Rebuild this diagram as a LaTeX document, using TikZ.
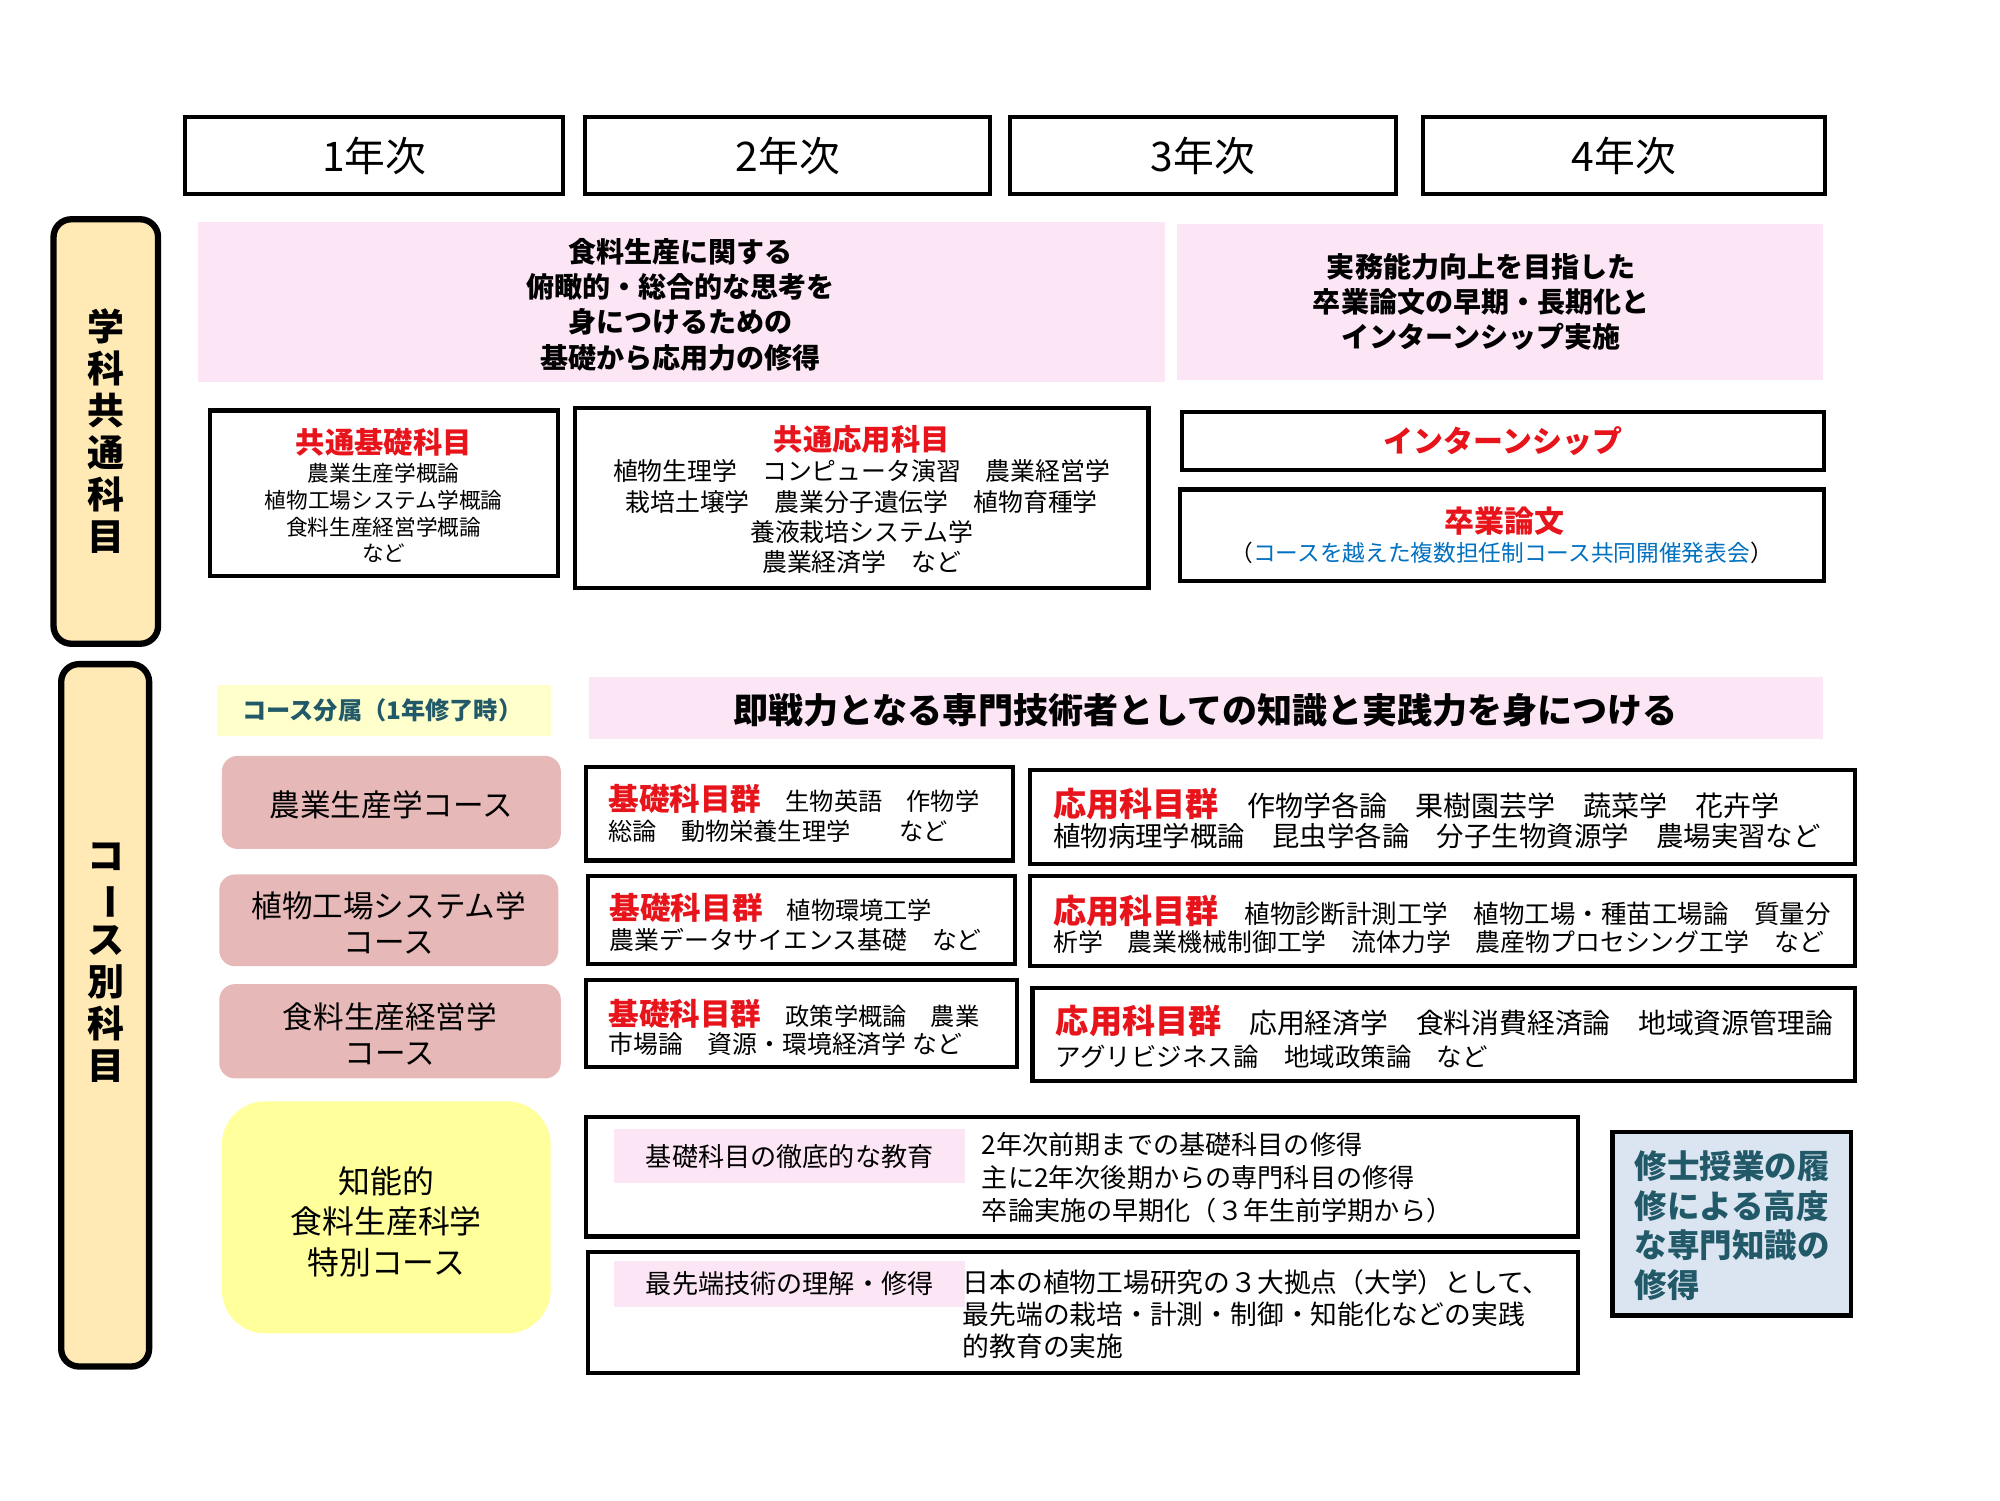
\documentclass[tikz,border=0pt]{standalone}
\usepackage{fontspec}
\usepackage{graphicx}
\setmainfont{Noto Sans CJK JP}
\definecolor{myred}{HTML}{E8141B}
\definecolor{myblue}{HTML}{0070C0}
\definecolor{tealtxt}{HTML}{215968}
\definecolor{peach}{HTML}{FFE9B4}
\definecolor{pinkbg}{HTML}{FCE6F5}
\definecolor{coursebg}{HTML}{E6B9B8}
\definecolor{yellowbg}{HTML}{FFFF9C}
\definecolor{lightyel}{HTML}{FFFFCC}
\definecolor{shubg}{HTML}{DBE5F1}
\newcommand\fs[1]{\fontsize{\fpeval{#1*0.6452}pt}{\fpeval{#1*0.6452*1.25}pt}\selectfont}
\newcommand\fsl[2]{\fontsize{\fpeval{#1*0.6452}pt}{\fpeval{#2*0.6452}pt}\selectfont}
\newcommand\bx[6]{\node[#6, minimum width=\fpeval{(#4-#2)*0.6452}pt, minimum height=\fpeval{(#5-#3)*0.6452}pt] (#1) at (\fpeval{(#2+#4)/2},\fpeval{(#3+#5)/2}) {};}
\newcommand\redt[2]{{\fs{#1}\bfseries\color{myred}#2}}
\begin{document}
\begin{tikzpicture}[x=0.6452pt,y=-0.6452pt,
  base/.style={inner sep=0pt, outer sep=0pt},
  yearbox/.style={base, draw=black, line width=2pt, fill=white},
  wbox/.style={base, draw=black, line width=2.1pt, fill=white},
  sidebox/.style={base, draw=black, line width=3.2pt, fill=peach, rounded corners=9pt},
  pinkbox/.style={base, fill=pinkbg},
  yelbox/.style={base, fill=lightyel},
  course/.style={base, fill=coursebg, rounded corners=8pt},
  special/.style={base, fill=yellowbg, rounded corners=22pt},
  shubox/.style={base, draw=black, line width=2.1pt, fill=shubg},
  txt/.style={inner sep=0pt, align=center},
  lt/.style={inner sep=0pt, anchor=west, align=left},
]
\useasboundingbox (0,0) rectangle (1569,1177);
\fill[white] (0,0) rectangle (1569,1177);

% year headers
\bx{y1}{145}{92}{442}{152}{yearbox}
\bx{y2}{459}{92}{777}{152}{yearbox}
\bx{y3}{792}{92}{1095}{152}{yearbox}
\bx{y4}{1116}{92}{1432}{152}{yearbox}
\node[txt, font=\fs{32}] (y1t) at (y1) {1年次};
\node[txt, font=\fs{32}] (y2t) at (y2) {2年次};
\node[txt, font=\fs{32}] (y3t) at (y3) {3年次};
\node[txt, font=\fs{32}] (y4t) at (y4) {4年次};

% side labels
\bx{sideA}{42}{172}{124}{505}{sidebox}
\node[txt, font=\fsl{29}{33}\bfseries] (sideAt) at (83,338) {学\\科\\共\\通\\科\\目};
\bx{sideB}{48}{521}{117}{1072}{sidebox}
\node[txt, font=\fsl{29}{33}\bfseries] (sideBt) at (83,755) {コ\\\rotatebox[origin=c]{-90}{ー}\\ス\\別\\科\\目};

% common subjects
\bx{pinkA}{155}{174}{914}{300}{pinkbox}
\node[txt, font=\fsl{22}{27.7}\bfseries] (pinkAt) at (534,239) {食料生産に関する\\俯瞰的・総合的な思考を\\身につけるための\\基礎から応用力の修得};
\bx{pinkB}{923}{176}{1430}{298}{pinkbox}
\node[txt, font=\fsl{22}{27.5}\bfseries] (pinkBt) at (1162,237) {実務能力向上を目指した\\卒業論文の早期・長期化と\\インターンシップ実施};

\bx{kiso}{165}{322}{438}{452}{wbox}
\node[txt, font=\fs{23}\bfseries, text=myred] (kisoT) at (301,347) {共通基礎科目};
\node[txt, font=\fsl{17}{21}] (kisoL) at (301,402.5) {農業生産学概論\\植物工場システム学概論\\食料生産経営学概論\\など};

\bx{ouyo}{451}{320}{901}{461}{wbox}
\node[txt, font=\fs{23}\bfseries, text=myred] (ouyoT) at (676,345) {共通応用科目};
\node[txt, font=\fsl{19.5}{23.7}] (ouyoL) at (676,405.5) {植物生理学　コンピュータ演習　農業経営学\\栽培土壌学　農業分子遺伝学　植物育種学\\養液栽培システム学\\農業経済学　など};

\bx{intern}{927}{323}{1431}{369}{wbox}
\node[txt, font=\fs{23.5}\bfseries, text=myred] (internT) at (1179,346) {インターンシップ};

\bx{sotsu}{926}{384}{1431}{456}{wbox}
\node[txt, font=\fs{23.5}\bfseries, text=myred] (sotsuT) at (1180,409) {卒業論文};
\node[txt, font=\fs{17.8}] (sotsuS) at (1178,434) {（\textcolor{myblue}{コースを越えた複数担任制コース共同開催発表会}）};

% course section
\bx{bunzoku}{170}{537}{432}{577}{yelbox}
\node[txt, font=\fs{19}\bfseries, text=tealtxt] (bunzokuT) at (300,557) {コース分属（1年修了時）};
\bx{sokusen}{462}{531}{1430}{580}{pinkbox}
\node[txt, font=\fs{27.5}\bfseries] (sokusenT) at (946,557) {即戦力となる専門技術者としての知識と実践力を身につける};

\bx{c1}{174}{593}{440}{666}{course}
\node[txt, font=\fs{24}] (c1t) at (307,631) {農業生産学コース};
\bx{c2}{172}{686}{438}{758}{course}
\node[txt, font=\fsl{24}{28}] (c2t) at (305,724) {植物工場システム学\\コース};
\bx{c3}{172}{772}{440}{846}{course}
\node[txt, font=\fsl{24}{28}] (c3t) at (306,811) {食料生産経営学\\コース};
\bx{c4}{174}{864}{432}{1046}{special}
\node[txt, font=\fsl{25}{31.5}] (c4t) at (303,958.5) {知能的\\食料生産科学\\特別コース};

% basic groups
\bx{k1}{460}{602}{795}{675}{wbox}
\node[lt, font=\fs{19}] (k1a) at (477,627) {\redt{24}{基礎科目群}　生物英語　作物学};
\node[lt, font=\fs{19}] (k1b) at (477,652) {総論　動物栄養生理学　　など};
\bx{k2}{461}{687}{796}{756}{wbox}
\node[lt, font=\fs{19}] (k2a) at (478,712) {\redt{24}{基礎科目群}　植物環境工学};
\node[lt, font=\fs{19.5}] (k2b) at (478,737) {農業データサイエンス基礎　など};
\bx{k3}{460}{769}{798}{837}{wbox}
\node[lt, font=\fs{19}] (k3a) at (477,795) {\redt{24}{基礎科目群}　政策学概論　農業};
\node[lt, font=\fs{19.5}] (k3b) at (477,819) {市場論　資源・環境経済学 など};

% applied groups
\bx{o1}{808}{604}{1455}{678}{wbox}
\node[lt, font=\fs{22}] (o1a) at (826,631) {\redt{26}{応用科目群}　作物学各論　果樹園芸学　蔬菜学　花卉学};
\node[lt, font=\fs{21.5}] (o1b) at (826,656) {植物病理学概論　昆虫学各論　分子生物資源学　農場実習など};
\bx{o2}{808}{687}{1455}{758}{wbox}
\node[lt, font=\fs{20}] (o2a) at (826,715) {\redt{26}{応用科目群}　植物診断計測工学　植物工場・種苗工場論　質量分};
\node[lt, font=\fs{19.5}] (o2b) at (826,739) {析学　農業機械制御工学　流体力学　農産物プロセシング工学　など};
\bx{o3}{810}{775}{1455}{848}{wbox}
\node[lt, font=\fs{21.8}] (o3a) at (828,801) {\redt{26}{応用科目群}　応用経済学　食料消費経済論　地域資源管理論};
\node[lt, font=\fs{20}] (o3b) at (828,829) {アグリビジネス論　地域政策論　など};

% special course
\bx{s1}{460}{876}{1238}{970}{wbox}
\bx{s1l}{482}{886}{757}{928}{pinkbox}
\node[txt, font=\fs{20.5}] (s1lt) at (s1l) {基礎科目の徹底的な教育};
\node[lt, font=\fsl{20.5}{26}] (s1t) at (770,924) {2年次前期までの基礎科目の修得\\主に2年次後期からの専門科目の修得\\卒論実施の早期化（３年生前学期から）};
\bx{s2}{461}{982}{1238}{1077}{wbox}
\bx{s2l}{482}{989}{757}{1025}{pinkbox}
\node[txt, font=\fs{20.5}] (s2lt) at (s2l) {最先端技術の理解・修得};
\node[lt, font=\fsl{21}{25}] (s2t) at (755,1031) {日本の植物工場研究の３大拠点（大学）として、\\最先端の栽培・計測・制御・知能化などの実践\\的教育の実施};

\bx{shu}{1265}{888}{1452}{1032}{shubox}
\node[lt, font=\fsl{25.5}{31}\bfseries, text=tealtxt] (shut) at (1282,961.5) {修士授業の履\\修による高度\\な専門知識の\\修得};
\end{tikzpicture}
\end{document}
